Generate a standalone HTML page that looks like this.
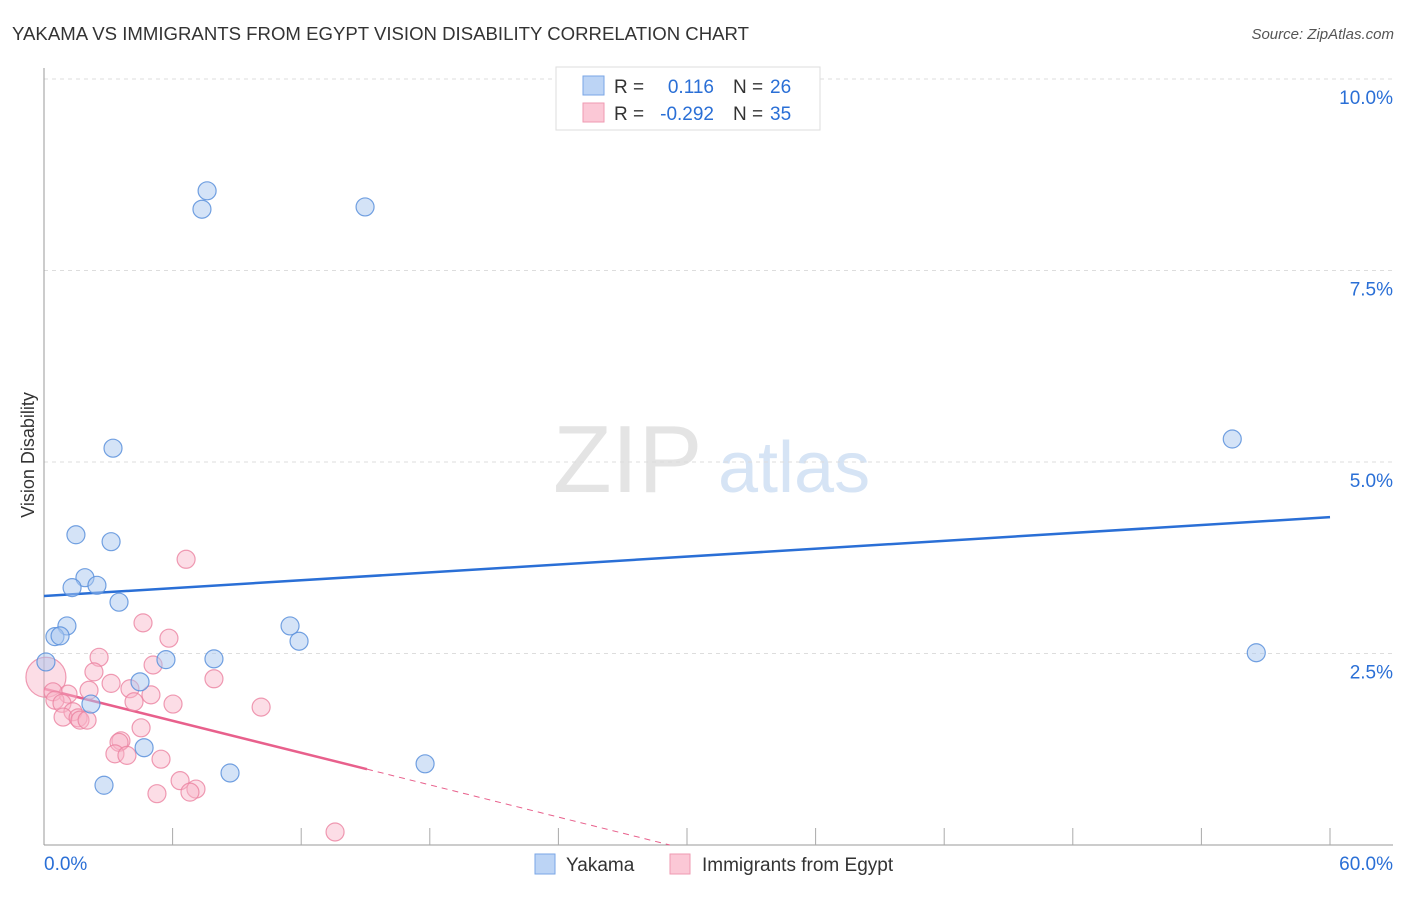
<!DOCTYPE html>
<html><head><meta charset="utf-8"><style>
body{margin:0;background:#fff;font-family:"Liberation Sans",sans-serif}
svg text{font-family:"Liberation Sans",sans-serif}
</style></head><body>
<svg width="1406" height="892" xmlns="http://www.w3.org/2000/svg">
<text x="12" y="40" font-size="18.6" fill="#333">YAKAMA VS IMMIGRANTS FROM EGYPT VISION DISABILITY CORRELATION CHART</text>
<text x="1394" y="39" font-size="15" fill="#555" text-anchor="end" font-style="italic">Source: ZipAtlas.com</text>
<g>
<text x="553" y="492" font-size="96" fill="#e4e4e4" font-family="Liberation Serif">ZIP</text>
<text x="718" y="492" font-size="72" fill="#d6e4f5">atlas</text>
</g>
<g id="grid"></g>
<g id="axes"></g>
<text transform="translate(34,455) rotate(-90)" font-size="18" fill="#333" text-anchor="middle">Vision Disability</text>
<g id="trend"></g>
<g id="pts"></g>
<g>
<rect x="556" y="67" width="264" height="63" fill="#fff" stroke="#ddd"/>
<rect x="583" y="76" width="21" height="19" fill="#bcd4f5" stroke="#7aa6e6"/>
<rect x="583" y="103" width="21" height="19" fill="#fbc8d6" stroke="#ef9ab2"/>
<text x="614" y="93" font-size="19" fill="#333">R =</text>
<text x="714" y="93" font-size="19" fill="#2a6fd6" text-anchor="end">0.116</text>
<text x="733" y="93" font-size="19" fill="#333">N =</text>
<text x="770" y="93" font-size="19" fill="#2a6fd6">26</text>
<text x="614" y="120" font-size="19" fill="#333">R =</text>
<text x="714" y="120" font-size="19" fill="#2a6fd6" text-anchor="end">-0.292</text>
<text x="733" y="120" font-size="19" fill="#333">N =</text>
<text x="770" y="120" font-size="19" fill="#2a6fd6">35</text>
</g>
<g>
<rect x="535" y="854" width="20" height="20" fill="#bcd4f5" stroke="#7aa6e6"/>
<text x="566" y="871" font-size="19" fill="#333">Yakama</text>
<rect x="670" y="854" width="20" height="20" fill="#fbc8d6" stroke="#ef9ab2"/>
<text x="702" y="871" font-size="19" fill="#333">Immigrants from Egypt</text>
</g>
</svg>
<script>
const yTicks=[2.5,5,7.5,10];
const yTickLabels=["2.5%","5.0%","7.5%","10.0%"];
const xTicks=[0,6,12,18,24,30,36,42,48,54,60];
const blueX=[7.61,7.37,14.98,3.22,55.44,1.49,3.13,1.91,1.31,2.47,3.50,1.07,0.51,0.75,11.48,11.90,0.09,5.69,7.93,4.48,2.19,4.67,17.78,8.68,2.80,56.56];
const blueY=[8.54,8.30,8.33,5.18,5.30,4.05,3.96,3.49,3.36,3.39,3.17,2.86,2.72,2.73,2.86,2.66,2.39,2.42,2.43,2.13,1.84,1.27,1.06,0.94,0.78,2.51];
const pinkX=[6.63,4.62,5.83,2.57,5.09,2.33,0.09,3.13,7.93,2.10,4.01,1.12,4.99,0.42,0.51,0.84,4.20,6.02,10.13,1.35,0.89,1.59,1.68,2.01,4.53,3.59,3.50,3.31,3.87,5.46,6.35,5.27,7.09,6.81,13.58];
const pinkY=[3.73,2.90,2.70,2.45,2.35,2.26,2.19,2.11,2.17,2.02,2.04,1.97,1.96,2.00,1.89,1.85,1.87,1.84,1.80,1.74,1.67,1.66,1.63,1.63,1.53,1.36,1.34,1.19,1.17,1.12,0.84,0.67,0.73,0.69,0.17];
const pinkBig=[6];
const blueTrend=[[0,3.25],[60,4.28]];
const pinkTrend=[[0,2.04],[15.07,0.99],[29.2,0]];
const X=v=>44+v/60*1286, Y=v=>845-v*76.6;
const NS="http://www.w3.org/2000/svg";
function mk(t,a,p){const e=document.createElementNS(NS,t);for(const k in a)e.setAttribute(k,a[k]);p.appendChild(e);return e;}
const grid=document.getElementById('grid'),axes=document.getElementById('axes'),trend=document.getElementById('trend'),pts=document.getElementById('pts');
yTicks.forEach((t,i)=>{
 const l=mk('line',{x1:44,x2:1393,y1:Y(t),y2:Y(t),stroke:'#ddd','stroke-dasharray':'4,4'},grid);
 
 
 const tx=mk('text',{x:1393,y:Y(t)+25,'font-size':19,fill:'#2a6fd6','text-anchor':'end'},axes);
 tx.textContent=yTickLabels[i];
 
 
});
const topGrid=mk('line',{x1:44,x2:1393,y1:79,y2:79,stroke:'#ddd','stroke-dasharray':'4,4'},grid);


const ya=mk('line',{x1:44,x2:44,y1:68,y2:845,stroke:'#999'},axes);


const xa=mk('line',{x1:44,x2:1393,y1:845,y2:845,stroke:'#999'},axes);


xTicks.forEach(t=>{if(t>0){const l=mk('line',{x1:X(t),x2:X(t),y1:828,y2:845,stroke:'#aaa'},axes);
 
 }});
const xl0=mk('text',{x:44,y:870,'font-size':19,fill:'#2a6fd6'},axes);xl0.textContent='0.0%';


const xl1=mk('text',{x:1393,y:870,'font-size':19,fill:'#2a6fd6','text-anchor':'end'},axes);xl1.textContent='60.0%';


pinkX.forEach((x,i)=>{const c=mk('circle',{cx:X(x),cy:Y(pinkY[i]),r:pinkBig.includes(i)?20:9,fill:'rgba(248,180,200,0.45)',stroke:'rgba(235,130,160,0.8)','stroke-width':1.2},pts);
 
 });
blueX.forEach((x,i)=>{const c=mk('circle',{cx:X(x),cy:Y(blueY[i]),r:9,fill:'rgba(170,200,240,0.5)',stroke:'rgba(90,145,220,0.85)','stroke-width':1.2},pts);
 
 });
const bt=mk('line',{x1:X(blueTrend[0][0]),y1:Y(blueTrend[0][1]),x2:X(blueTrend[1][0]),y2:Y(blueTrend[1][1]),stroke:'#2a6fd6','stroke-width':2.5},trend);


const pt=mk('line',{x1:X(pinkTrend[0][0]),y1:Y(pinkTrend[0][1]),x2:X(pinkTrend[1][0]),y2:Y(pinkTrend[1][1]),stroke:'#e8608c','stroke-width':2.5},trend);


const pd=mk('line',{x1:X(pinkTrend[1][0]),y1:Y(pinkTrend[1][1]),x2:X(pinkTrend[2][0]),y2:Y(pinkTrend[2][1]),stroke:'#e8608c','stroke-width':1,'stroke-dasharray':'6,5'},trend);


</script>
</body></html>
